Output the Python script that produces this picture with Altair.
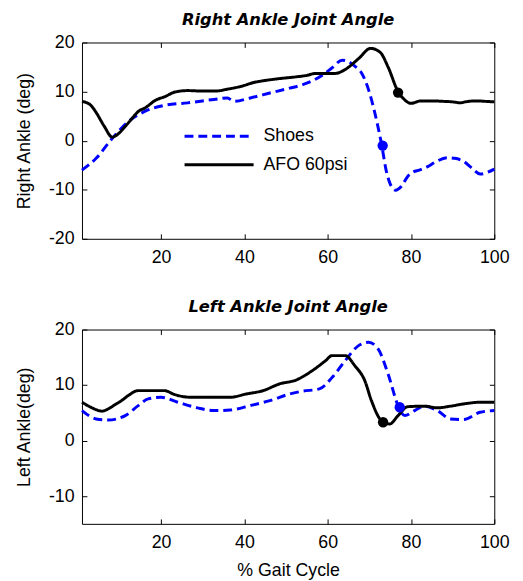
import altair as alt
import pandas as pd

SERIES = ["Shoes", "AFO 60psi"]
COLORS = ["#0000ff", "#000000"]
DASHES = [[9, 5], [1, 0]]

# ---- Right ankle (top panel) ----
r_shoes_x = [1, 4.4, 8.3, 12.3, 16.2, 20.9, 26.4, 32.7, 35.9, 37.5, 41.4, 46.1, 50.9, 54, 58.8, 61,
             63.5, 65, 66.5, 68.2, 69.8, 71.3, 72.9, 74.1, 75, 76.3, 77.7, 79.2, 80.5, 82, 84, 86,
             88.7, 90.5, 92.6, 94.5, 96.6, 100]
r_shoes_y = [-6.0, -3.6, 0.5, 4.0, 6.0, 7.2, 7.7, 8.4, 8.7, 8.0, 8.7, 9.7, 10.7, 11.4, 13.4, 14.8,
             16.4, 16.1, 15.2, 13.7, 10.4, 5.7, -0.6, -6.3, -8.8, -10.1, -9.3, -7.3, -6.4, -6.0, -5.3, -4.3,
             -3.5, -3.6, -4.2, -5.5, -6.8, -5.8]
r_afo_x = [1, 3, 4.2, 6.3, 8.3, 9.1, 11.5, 13, 14.6, 16.2, 18.6, 21, 23.3, 26.4, 30, 33, 36, 39.8, 42,
           44.5, 48, 52.4, 55, 57.1, 61.8, 64.2, 67.4, 70.3, 72.6, 74.5, 76.9, 78.5, 80, 82.4, 85, 87.9,
           90, 91.9, 93, 95.8, 98, 100]
r_afo_y = [8.0, 7.3, 6.0, 3.0, 0.7, 1.0, 3.0, 4.5, 6.0, 6.7, 8.2, 9.0, 9.9, 10.2, 10.1, 10.1, 10.5, 11.2,
           11.8, 12.2, 12.6, 13.0, 13.3, 13.7, 13.7, 14.5, 16.7, 18.8, 18.0, 15.0, 10.0, 8.3, 7.6, 8.1,
           8.1, 8.0, 7.9, 7.7, 7.9, 8.1, 8.0, 7.9]
r_mark_x = [73.2, 76.9]
r_mark_y = [-1.0, 9.8]

# ---- Left ankle (bottom panel) ----
l_shoes_x = [1, 4.4, 7.3, 11.4, 14.5, 16.9, 20, 24, 28.7, 32.7, 36.6, 41.4, 46.1, 50.9, 54, 58, 61.1,
             64.2, 67.4, 69.8, 72.1, 74.5, 76.9, 78.5, 80.9, 83.2, 86.3, 89.5, 92.6, 96.6, 100]
l_shoes_y = [5.4, 3.9, 3.7, 4.5, 6.3, 7.5, 7.8, 6.9, 5.9, 5.4, 5.5, 6.3, 7.2, 8.4, 8.9, 9.3, 11.4,
             14.4, 17.1, 17.7, 16.5, 12.0, 6.3, 4.5, 5.4, 6.2, 5.4, 3.9, 3.8, 5.1, 5.4]
l_afo_x = [1, 3.4, 5.8, 7.3, 9, 10.5, 12.1, 14.5, 20.8, 23.2, 27.1, 36.6, 40.5, 44.5, 48.4, 52.4, 56.3,
           59.5, 61, 64.2, 66.5, 68.9, 70.5, 72.9, 74.9, 76.9, 79.2, 83.2, 86.3, 89.5, 92.6, 96.6, 100]
l_afo_y = [6.9, 5.9, 5.3, 5.7, 6.5, 7.2, 8.1, 9.0, 9.0, 8.3, 7.8, 7.8, 8.4, 9.0, 10.2, 10.9, 12.6,
           14.4, 15.3, 15.3, 13.5, 10.8, 7.2, 3.6, 3.0, 4.5, 6.1, 6.2, 5.9, 6.2, 6.6, 6.9, 6.9]
l_mark_x = [77.3, 73.3]
l_mark_y = [6.0, 3.3]

X_TICKS = [20, 40, 60, 80, 100]
R_Y_TICKS = [-20, -10, 0, 10, 20]
L_Y_TICKS = [-10, 0, 10, 20]

FONT = "Liberation Sans"
FS = 18
HYPHEN_LABEL = "datum.value < 0 ? '-' + abs(datum.value) : '' + datum.value"


def lines_df(sx, sy, ax, ay):
    a = pd.DataFrame({"x": sx, "y": sy, "series": SERIES[0]})
    b = pd.DataFrame({"x": ax, "y": ay, "series": SERIES[1]})
    return pd.concat([a, b], ignore_index=True)


def marks_df(mx, my):
    return pd.DataFrame({"x": mx, "y": my, "series": SERIES})


def panel(ldf, mdf, ydom, yticks, ytitle, title, xtitle, show_legend, h):
    xscale = alt.Scale(domain=[1, 100], nice=False, zero=False)
    yscale = alt.Scale(domain=ydom, nice=False, zero=False)
    cscale = alt.Scale(domain=SERIES, range=COLORS)
    dscale = alt.Scale(domain=SERIES, range=DASHES)
    common = dict(tickSize=5, offset=-5, domain=False, grid=False, tickColor="black",
                  tickWidth=1, labelFlush=False, labelOverlap=False)
    xb = alt.Axis(orient="bottom", values=X_TICKS, labelFont=FONT, labelFontSize=FS,
                  labelColor="black", labelPadding=10, title=xtitle, titleFont=FONT,
                  titleFontSize=FS, titleFontWeight="normal", titleColor="black",
                  titlePadding=10, **common)
    yl = alt.Axis(orient="left", values=yticks, labelFont=FONT, labelFontSize=FS,
                  labelColor="black", labelPadding=8, title=ytitle, titleFont=FONT,
                  titleFontSize=FS, titleFontWeight="normal", titleColor="black",
                  titlePadding=15, labelExpr=HYPHEN_LABEL, **common)
    xt = alt.Axis(orient="top", values=X_TICKS, labels=False, title=None, **common)
    yr = alt.Axis(orient="right", values=yticks, labels=False, title=None, **common)

    if show_legend:
        leg = alt.Legend(orient="none", legendX=130, legendY=86, title=None,
                         symbolType="M-5,0H5", symbolSize=196, symbolStrokeWidth=3,
                         labelFont=FONT, labelFontSize=FS, labelColor="black",
                         labelOffset=36, rowPadding=11, padding=0)
        color = alt.Color("series:N", scale=cscale, legend=leg)
        dash = alt.StrokeDash("series:N", scale=dscale, legend=leg)
    else:
        color = alt.Color("series:N", scale=cscale, legend=None)
        dash = alt.StrokeDash("series:N", scale=dscale, legend=None)

    line = alt.Chart(ldf).mark_line(strokeWidth=3, interpolate="monotone").encode(
        x=alt.X("x:Q", scale=xscale, axis=xb),
        y=alt.Y("y:Q", scale=yscale, axis=yl),
        color=color,
        strokeDash=dash,
        detail="series:N",
    )
    pts = alt.Chart(mdf).mark_circle(size=110, opacity=1).encode(
        x=alt.X("x:Q", scale=xscale, axis=xt),
        y=alt.Y("y:Q", scale=yscale, axis=yr),
        color=alt.Color("series:N", scale=cscale, legend=None),
    )
    return alt.layer(line, pts).resolve_axis(x="independent", y="independent").properties(
        width=418, height=h,
        title=alt.Title(title, font="DejaVu Sans", fontSize=16.5, fontWeight="bold",
                        fontStyle="italic", color="black", anchor="middle", offset=5),
    )


top = panel(lines_df(r_shoes_x, r_shoes_y, r_afo_x, r_afo_y), marks_df(r_mark_x, r_mark_y),
            [-20, 20], R_Y_TICKS, "Right Ankle (deg)", "Right Ankle Joint Angle", None, True, 199)
bottom = panel(lines_df(l_shoes_x, l_shoes_y, l_afo_x, l_afo_y), marks_df(l_mark_x, l_mark_y),
               [-15, 20], L_Y_TICKS, "Left Ankle(deg)", "Left Ankle Joint Angle", "% Gait Cycle",
               False, 197)

chart = alt.vconcat(top, bottom, spacing=32).resolve_scale(
    color="independent", strokeDash="independent"
).properties(
    padding={"left": 7, "top": 0, "right": 5, "bottom": 0},
    background="white",
).configure_view(stroke="black", strokeWidth=1)

chart.save("out.html", embed_options={"renderer": "svg", "actions": False})
